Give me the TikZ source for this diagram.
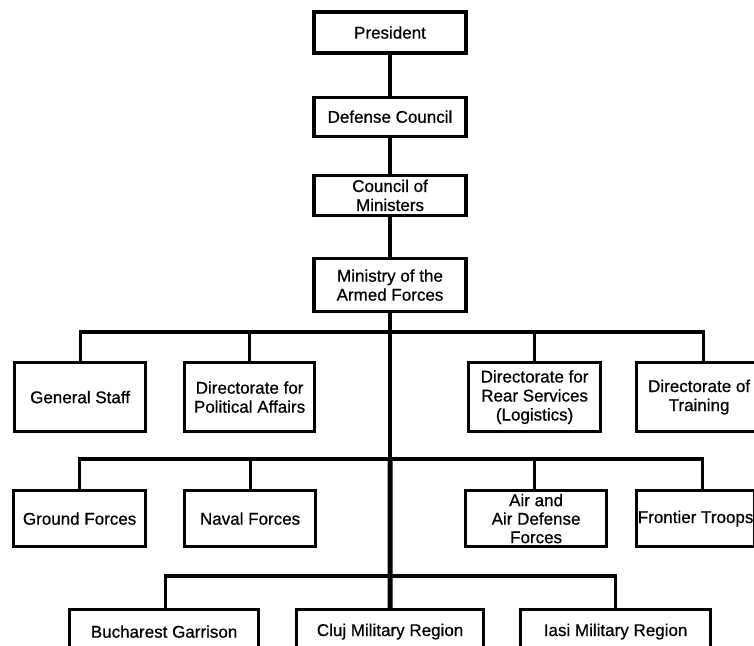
\documentclass[tikz,border=0pt]{standalone}
\usepackage{fontspec}
\setmainfont{Liberation Sans}[FakeBold=0.6]
\usetikzlibrary{positioning}

\begin{document}
\begin{tikzpicture}[
  x=1pt, y=-1pt,
  orgbox/.style={
    draw=black,
    fill=white,
    line width=3.2pt,
    inner xsep=3pt,
    inner ysep=1pt,
    align=center,
    font=\fontsize{17}{19}\selectfont
  },
  link/.style={
    draw=black,
    line width=3.2pt,
    line join=miter
  }
]

  \useasboundingbox (0,0) rectangle (754,645);
  \clip (0,0) rectangle (754,645);

  % --- Command chain ---
  \node[orgbox, minimum width=152pt, minimum height=41pt] (pres) at (390,32.5) {President};
  \node[orgbox, minimum width=152pt, minimum height=39pt, below=41pt of pres] (defc) {Defense Council};
  \node[orgbox, minimum width=152pt, minimum height=40pt, below=36pt of defc] (com) {Council of\\Ministers};
  \node[orgbox, minimum width=152pt, minimum height=53pt, below=40pt of com] (mafp) {Ministry of the\\Armed Forces};

  % bus points on the trunk
  \coordinate (bus1) at (390,332);
  \coordinate (bus2) at (390,459);
  \coordinate (bus3) at (390,576);

  % --- Directorates ---
  \node[orgbox, minimum width=131pt, minimum height=69pt, anchor=north west] (gstaff) at (13,361) {General Staff};
  \node[orgbox, minimum width=130pt, minimum height=69pt, anchor=north west] (polaff) at (183,361) {Directorate for\\Political Affairs};
  \node[orgbox, minimum width=132pt, minimum height=69pt, anchor=north west] (rear) at (467,361) {Directorate for\\Rear Services\\(Logistics)};
  \node[orgbox, minimum width=125pt, minimum height=69pt, anchor=north west] (train) at (635,361) {Directorate of\\Training};

  % --- Services ---
  \node[orgbox, minimum width=132pt, minimum height=56pt, anchor=north west] (ground) at (12,489) {Ground Forces};
  \node[orgbox, minimum width=131pt, minimum height=56pt, anchor=north west] (naval) at (183,489) {Naval Forces};
  \node[orgbox, minimum width=141pt, minimum height=56pt, anchor=north west, font=\fontsize{17}{18.5}\selectfont] (air) at (464,489) {Air and\\Air Defense\\Forces};
  \node[orgbox, minimum width=118pt, minimum height=56pt, inner xsep=1pt, anchor=north west] (front) at (635,489) {Frontier Troops};

  % --- Regions ---
  \node[orgbox, minimum width=189pt, minimum height=44pt, anchor=north west] (buch) at (68,608) {Bucharest Garrison};
  \node[orgbox, minimum width=187pt, minimum height=44pt, anchor=north west] (cluj) at (295,608) {Cluj Military Region};
  \node[orgbox, minimum width=190pt, minimum height=44pt, anchor=north west] (iasi) at (519,608) {Iasi Military Region};

  % Connecting lines
  \draw[link] (pres) -- (defc);
  \draw[link] (defc) -- (com);
  \draw[link] (com) -- (mafp);
  \draw[link] (mafp.south) -- (bus2);
  \draw[link, line width=5pt] (bus2) -- (cluj.north);

  \draw[link] (gstaff.north) |- (bus1) -| ([xshift=4pt]train.north);
  \draw[link] (polaff.north) -- (polaff.north |- bus1);
  \draw[link] (rear.north) -- (rear.north |- bus1);

  \draw[link] (ground.north) |- (bus2) -| ([xshift=7pt]front.north);
  \draw[link] (naval.north) -- (naval.north |- bus2);
  \draw[link] ([xshift=-2pt]air.north) -- ([xshift=-2pt]air.north |- bus2);

  \draw[link] ([xshift=1pt]buch.north) |- (bus3) -| (iasi.north);

\end{tikzpicture}
\end{document}
